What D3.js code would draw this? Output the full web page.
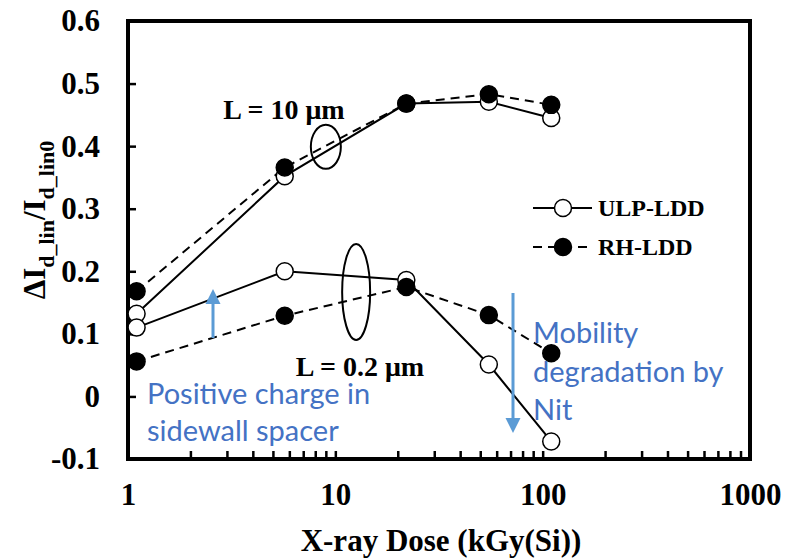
<!DOCTYPE html>
<html>
<head>
<meta charset="utf-8">
<script src="https://cdn.jsdelivr.net/npm/d3@7/dist/d3.min.js"></script>
<style>
  html, body { margin: 0; padding: 0; background: #fff; }
  svg { display: block; }
</style>
</head>
<body>
<svg id="chart" width="785" height="558"></svg>
<script>
// X-ray dose points (kGy(Si))
const dose = [1.1, 5.7, 22, 55, 110];

// Relative change of linear drain current
const ulp10 = [0.132, 0.352, 0.468, 0.471, 0.445];
const rh10  = [0.168, 0.366, 0.468, 0.483, 0.466];
const ulp02 = [0.110, 0.200, 0.186, 0.051, -0.072];
const rh02  = [0.056, 0.129, 0.175, 0.130, 0.069];

const yTicks = [-0.1, 0, 0.1, 0.2, 0.3, 0.4, 0.5, 0.6];
const xDecades = [1, 10, 100, 1000];

const serif = "'Liberation Serif', 'Times New Roman', serif";
const note = "Lato, 'Open Sans', sans-serif";
const blueText = "#4472C4";
const blueArrow = "#5B9BD5";

const svg = d3.select("#chart");
const plotL = 128, plotR = 750, plotT = 21, plotB = 459;

const x = d3.scaleLog().domain([1, 1000]).range([plotL, plotR]);
const y = d3.scaleLinear().domain([-0.1, 0.6]).range([plotB, plotT]);

// minor + major tick positions on the log axis
const xTickVals = [];
for (const d of [1, 10, 100]) for (let k = 1; k < 10; k++) xTickVals.push(d * k);
xTickVals.push(1000);

// y axis (ticks pointing inward)
const yAxis = d3.axisLeft(y).tickValues(yTicks).tickSize(-8).tickPadding(28)
  .tickFormat(d => String(+d.toFixed(1)));
const gy = svg.append("g").attr("transform", `translate(${plotL},0)`).call(yAxis);
gy.select(".domain").remove();
gy.selectAll(".tick line").attr("stroke", "#000").attr("stroke-width", 2.5);
gy.selectAll(".tick text").attr("font-family", serif).attr("font-weight", "bold")
  .attr("font-size", 31).attr("fill", "#000");

// x axis
const xAxis = d3.axisBottom(x).tickValues(xTickVals).tickSize(-8).tickPadding(24)
  .tickFormat(d => xDecades.includes(d) ? String(d) : "");
const gx = svg.append("g").attr("transform", `translate(0,${plotB})`).call(xAxis);
gx.select(".domain").remove();
gx.selectAll(".tick line").attr("stroke", "#000").attr("stroke-width", 2.5);
gx.selectAll(".tick text").attr("font-family", serif).attr("font-weight", "bold")
  .attr("font-size", 31).attr("fill", "#000");

// plot frame
svg.append("rect").attr("x", plotL).attr("y", plotT)
  .attr("width", plotR - plotL).attr("height", plotB - plotT)
  .attr("fill", "none").attr("stroke", "#000").attr("stroke-width", 4);

// axis titles
svg.append("text").attr("x", 441).attr("y", 551)
  .attr("text-anchor", "middle").attr("font-family", serif).attr("font-weight", "bold")
  .attr("font-size", 31).text("X-ray Dose (kGy(Si))");

const yt = svg.append("text")
  .attr("transform", `translate(45,220) rotate(-90)`)
  .attr("text-anchor", "middle").attr("font-family", serif).attr("font-weight", "bold")
  .attr("font-size", 31);
yt.append("tspan").text("ΔI");
yt.append("tspan").attr("dy", 9).attr("font-size", 22).text("d_lin");
yt.append("tspan").attr("dy", -9).text("/I");
yt.append("tspan").attr("dy", 9).attr("font-size", 22).text("d_lin0");

// series
const line = d3.line().x(d => x(d[0])).y(d => y(d[1]));
const series = [
  { vals: ulp10, dashed: false, filled: false },
  { vals: rh10,  dashed: true,  filled: true },
  { vals: ulp02, dashed: false, filled: false },
  { vals: rh02,  dashed: true,  filled: true }
];

series.forEach(s => {
  const pts = dose.map((d, i) => [d, s.vals[i]]);
  svg.append("path").datum(pts).attr("d", line).attr("fill", "none")
    .attr("stroke", "#000").attr("stroke-width", 2)
    .attr("stroke-dasharray", s.dashed ? "9,6" : null);
});
series.forEach(s => {
  const pts = dose.map((d, i) => [d, s.vals[i]]);
  svg.append("g").selectAll("circle").data(pts).join("circle")
    .attr("cx", d => x(d[0])).attr("cy", d => y(d[1])).attr("r", 8.5)
    .attr("fill", s.filled ? "#000" : "#fff").attr("stroke", "#000").attr("stroke-width", 1.5);
});

// group ellipses
const groups = [
  { cx: 9.0, cy: 0.399, rx: 15, ry: 22 },
  { cx: 12.6, cy: 0.167, rx: 14, ry: 48 }
];
groups.forEach(g => {
  svg.append("ellipse").attr("cx", x(g.cx)).attr("cy", y(g.cy))
    .attr("rx", g.rx).attr("ry", g.ry)
    .attr("fill", "none").attr("stroke", "#000").attr("stroke-width", 2);
});

svg.append("text").attr("x", 284).attr("y", 119).attr("text-anchor", "middle")
  .attr("font-family", serif).attr("font-weight", "bold").attr("font-size", 28)
  .text("L = 10 μm");
svg.append("text").attr("x", 360).attr("y", 376).attr("text-anchor", "middle")
  .attr("font-family", serif).attr("font-weight", "bold").attr("font-size", 28)
  .text("L = 0.2 μm");

// legend
const legend = [
  { label: "ULP-LDD", dashed: false, filled: false, yy: 208 },
  { label: "RH-LDD", dashed: true, filled: true, yy: 247 }
];
legend.forEach(l => {
  svg.append("line").attr("x1", 533).attr("x2", 592).attr("y1", l.yy).attr("y2", l.yy)
    .attr("stroke", "#000").attr("stroke-width", 2)
    .attr("stroke-dasharray", l.dashed ? "9,6" : null);
  svg.append("circle").attr("cx", 563).attr("cy", l.yy).attr("r", 8.5)
    .attr("fill", l.filled ? "#000" : "#fff").attr("stroke", "#000").attr("stroke-width", 1.5);
  svg.append("text").attr("x", 598).attr("y", l.yy + 8)
    .attr("font-family", serif).attr("font-weight", "bold").attr("font-size", 24)
    .text(l.label);
});

// annotations
function arrow(x0, y0, y1) {
  const dir = Math.sign(y1 - y0);
  const head = 15, half = 7.5;
  svg.append("line").attr("x1", x0).attr("x2", x0).attr("y1", y0).attr("y2", y1 - dir * head)
    .attr("stroke", blueArrow).attr("stroke-width", 3);
  svg.append("path")
    .attr("d", `M${x0 - half},${y1 - dir * head} L${x0 + half},${y1 - dir * head} L${x0},${y1} Z`)
    .attr("fill", blueArrow);
}
arrow(213, 338, 289);
arrow(513, 293, 433);

const posNote = ["Positive charge in", "sidewall spacer"];
posNote.forEach((t, i) => {
  svg.append("text").attr("x", 147).attr("y", 404 + i * 37)
    .attr("font-family", note).attr("font-size", 29).attr("fill", blueText).text(t);
});
const mobNote = ["Mobility", "degradation by", "Nit"];
mobNote.forEach((t, i) => {
  svg.append("text").attr("x", 533).attr("y", 343 + i * 38.5)
    .attr("font-family", note).attr("font-size", 29).attr("fill", blueText).text(t);
});
</script>
</body>
</html>
